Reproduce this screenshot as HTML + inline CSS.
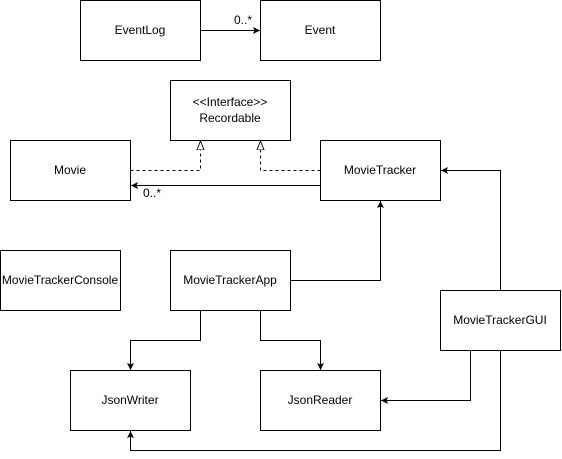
<!DOCTYPE html>
<html><head><style>body{margin:0;background:#fff}svg{display:block}text{font-family:"Liberation Sans",Arial,sans-serif;font-size:12px;fill:#000}</style></head>
<body>
<svg width="562" height="459" viewBox="0 0 562 459" xmlns="http://www.w3.org/2000/svg">
<defs>
<marker id="a" viewBox="0 0 10 10" refX="10" refY="5" markerWidth="7" markerHeight="7" orient="auto" markerUnits="userSpaceOnUse"><path d="M0,0 L10,5 L0,10 L2,5 z" fill="#000"/></marker>
<marker id="h" viewBox="0 0 10 10" refX="10" refY="5" markerWidth="9" markerHeight="9" orient="auto" markerUnits="userSpaceOnUse"><path d="M0,1 L10,5 L0,9 z" fill="#fff" stroke="#000" stroke-width="1"/></marker>
</defs>
<g fill="#fff" stroke="#000" stroke-width="1">
<rect x="80.5" y="0.5" width="120" height="60"/>
<rect x="260.5" y="0.5" width="120" height="60"/>
<rect x="170.5" y="80.5" width="120" height="60"/>
<rect x="10.5" y="140.5" width="120" height="60"/>
<rect x="320.5" y="140.5" width="120" height="60"/>
<rect x="0.5" y="250.5" width="120" height="60"/>
<rect x="170.5" y="250.5" width="120" height="60"/>
<rect x="440.5" y="290.5" width="120" height="60"/>
<rect x="70.5" y="370.5" width="120" height="60"/>
<rect x="260.5" y="370.5" width="120" height="60"/>
</g>
<g fill="none" stroke="#000" stroke-width="1">
<path d="M200.5,30.5 H260" marker-end="url(#a)"/>
<path d="M130.5,170.5 H200.5 V141" stroke-dasharray="3,3" marker-end="url(#h)"/>
<path d="M320.5,170.5 H260.5 V141" stroke-dasharray="3,3" marker-end="url(#h)"/>
<path d="M320.5,185.5 H131" marker-end="url(#a)"/>
<path d="M290.5,280.5 H380.5 V201" marker-end="url(#a)"/>
<path d="M500.5,290.5 V170.5 H441" marker-end="url(#a)"/>
<path d="M200.5,310.5 V340.5 H130.5 V370" marker-end="url(#a)"/>
<path d="M260.5,310.5 V340.5 H320.5 V370" marker-end="url(#a)"/>
<path d="M470.5,350.5 V400.5 H381" marker-end="url(#a)"/>
<path d="M500.5,350.5 V450.5 H130.5 V431" marker-end="url(#a)"/>
</g>
<g text-anchor="middle">
<text x="140" y="34">EventLog</text>
<text x="320" y="34">Event</text>
<text x="230" y="106" font-size="11">&lt;&lt;Interface&gt;&gt;</text>
<text x="230" y="122">Recordable</text>
<text x="70" y="174">Movie</text>
<text x="380" y="174">MovieTracker</text>
<text x="60" y="284">MovieTrackerConsole</text>
<text x="230" y="284">MovieTrackerApp</text>
<text x="500" y="324">MovieTrackerGUI</text>
<text x="130" y="404">JsonWriter</text>
<text x="320" y="404">JsonReader</text>
</g>
<text x="234" y="24" font-size="10">0..*</text>
<text x="143" y="197" font-size="10">0..*</text>
</svg>
</body></html>
